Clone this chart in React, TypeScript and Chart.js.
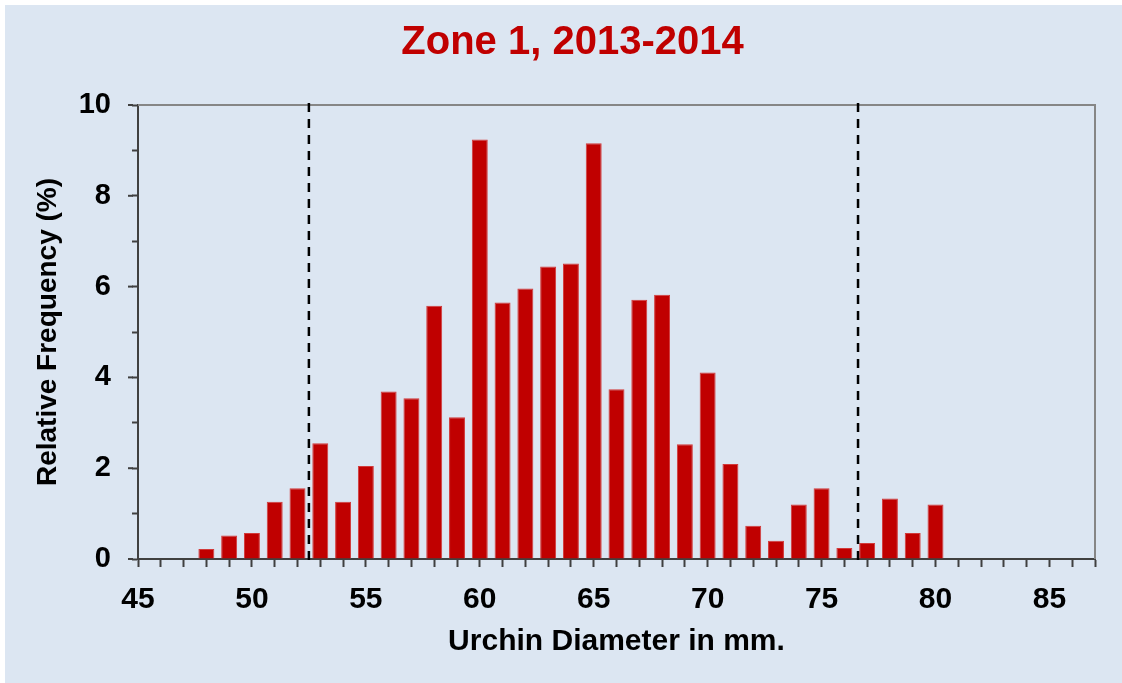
import React, { useEffect, useRef } from 'react';
import { Chart, registerables } from 'chart.js';

Chart.register(...registerables);

const diameters = [48, 49, 50, 51, 52, 53, 54, 55, 56, 57, 58, 59, 60, 61, 62, 63, 64, 65, 66, 67, 68, 69, 70, 71, 72, 73, 74, 75, 76, 77, 78, 79, 80];
const frequencies = [0.22, 0.52, 0.57, 1.26, 1.56, 2.55, 1.26, 2.05, 3.69, 3.54, 5.58, 3.12, 9.24, 5.65, 5.96, 6.44, 6.51, 9.16, 3.74, 5.71, 5.82, 2.53, 4.11, 2.09, 0.73, 0.40, 1.20, 1.56, 0.24, 0.35, 1.33, 0.57, 1.20];
const cutoffLines = [52.5, 76.6];
const xRange = [45, 87];
const yRange = [0, 10];
const yMajorTicks = [0, 2, 4, 6, 8, 10];
const chartTitle = 'Zone 1, 2013-2014';
const xTitle = 'Urchin Diameter in mm.';
const yTitle = 'Relative Frequency (%)';

const FONT = "'Liberation Sans', Arial, sans-serif";

const framePlugin = {
  id: 'frame',
  beforeDraw(chart: any) {
    const { ctx, width, height } = chart;
    ctx.save();
    ctx.fillStyle = '#dce6f2';
    ctx.fillRect(0, 0, width, height);
    // chart title
    ctx.fillStyle = '#c00000';
    ctx.font = `bold 40px ${FONT}`;
    ctx.textAlign = 'center';
    ctx.textBaseline = 'middle';
    ctx.fillText(chartTitle, 567.5, 38);
    ctx.restore();
  },
  afterDraw(chart: any) {
    const { ctx, chartArea } = chart;
    const xs = chart.scales.x;
    const ys = chart.scales.y;
    ctx.save();
    // top and right frame
    ctx.strokeStyle = '#868686';
    ctx.lineWidth = 2;
    ctx.beginPath();
    ctx.moveTo(chartArea.left, chartArea.top);
    ctx.lineTo(chartArea.right, chartArea.top);
    ctx.lineTo(chartArea.right, chartArea.bottom);
    ctx.stroke();
    // longer major ticks on y axis
    ctx.strokeStyle = '#404040';
    ctx.lineWidth = 2;
    yMajorTicks.forEach((v) => {
      const py = ys.getPixelForValue(v);
      ctx.beginPath();
      ctx.moveTo(chartArea.left - 10, py);
      ctx.lineTo(chartArea.left - 5, py);
      ctx.stroke();
    });
    // dashed cutoff lines
    ctx.strokeStyle = '#000000';
    ctx.lineWidth = 2.5;
    ctx.setLineDash([9, 7]);
    cutoffLines.forEach((v) => {
      const px = xs.getPixelForValue(v);
      ctx.beginPath();
      ctx.moveTo(px, chartArea.top - 2);
      ctx.lineTo(px, chartArea.bottom + 6);
      ctx.stroke();
    });
    ctx.restore();
  },
};

export default function App() {
  const canvasRef = useRef<HTMLCanvasElement | null>(null);

  useEffect(() => {
    document.body.style.margin = '0';
    const canvas = canvasRef.current;
    if (!canvas) return;
    const chart = new Chart(canvas, {
      type: 'bar',
      data: {
        datasets: [
          {
            data: diameters.map((d, i) => ({ x: d, y: frequencies[i] })),
            backgroundColor: '#c00000',
            borderColor: '#d23a3a',
            borderWidth: 1,
            categoryPercentage: 1,
            barPercentage: 0.7,
          },
        ],
      },
      options: {
        responsive: false,
        animation: false,
        layout: { padding: { left: 0, right: 27, top: 100, bottom: 0 } },
        plugins: {
          legend: { display: false },
          tooltip: { enabled: false },
          title: { display: false },
        },
        scales: {
          x: {
            type: 'linear',
            min: xRange[0],
            max: xRange[1],
            offset: false,
            afterFit(scale: any) {
              scale.height = 124;
            },
            ticks: {
              stepSize: 1,
              autoSkip: false,
              maxRotation: 0,
              padding: 15,
              color: '#000000',
              font: { family: FONT, size: 30, weight: 'bold' },
              callback: (v: any) => (Number(v) % 5 === 0 ? String(v) : ''),
            },
            grid: {
              offset: false,
              drawOnChartArea: false,
              drawTicks: true,
              tickLength: 8,
              tickColor: '#404040',
              tickWidth: 2,
            },
            border: { display: true, color: '#404040', width: 2 },
            title: {
              display: true,
              text: xTitle,
              color: '#000000',
              font: { family: FONT, size: 30, weight: 'bold' },
              padding: { top: 0, bottom: 23.7 },
            },
          },
          y: {
            min: yRange[0],
            max: yRange[1],
            afterFit(scale: any) {
              scale.width = 133;
            },
            ticks: {
              stepSize: 1,
              autoSkip: false,
              padding: 21,
              color: '#000000',
              font: { family: FONT, size: 29, weight: 'bold' },
              callback: (v: any) => (Number(v) % 2 === 0 ? String(v) : ''),
            },
            grid: {
              drawOnChartArea: false,
              drawTicks: true,
              tickLength: 6,
              tickColor: '#404040',
              tickWidth: 2,
            },
            border: { display: true, color: '#404040', width: 2 },
            title: {
              display: true,
              text: yTitle,
              color: '#000000',
              font: { family: FONT, size: 28, weight: 'bold' },
              padding: { top: 26.6, bottom: 0 },
            },
          },
        },
      },
      plugins: [framePlugin],
    });
    return () => chart.destroy();
  }, []);

  return (
    <div style={{ width: 1122, height: 683, background: '#ffffff', position: 'relative', overflow: 'hidden' }}>
      <canvas
        ref={canvasRef}
        width={1117}
        height={678}
        style={{ position: 'absolute', left: 5, top: 5, width: 1117, height: 678 }}
      />
    </div>
  );
}
